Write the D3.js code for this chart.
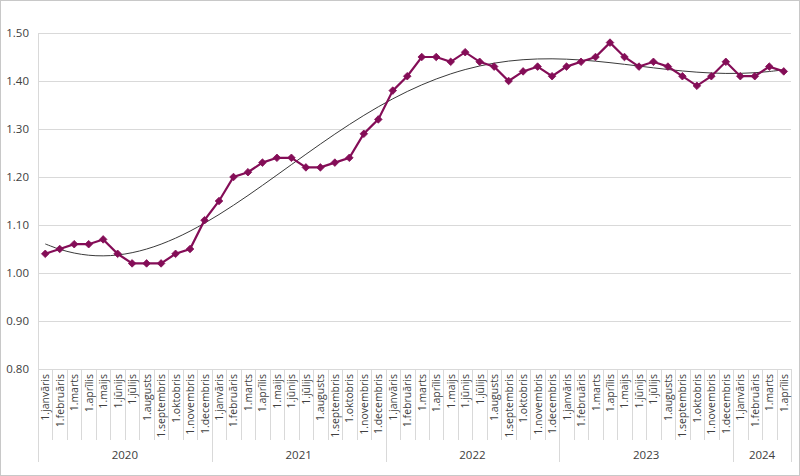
<!DOCTYPE html>
<html><head><meta charset="utf-8">
<script src="https://cdn.jsdelivr.net/npm/d3@7"></script>
<style>body{margin:0;background:#fff}svg{display:block}</style>
</head><body><svg id="c" width="800" height="476"></svg>
<script>
const years = ["2020","2021","2022","2023","2024"];
const monthsPerYear = [12,12,12,12,4];
const monthNames = ["1.janvāris","1.februāris","1.marts","1.aprīlis","1.maijs","1.jūnijs","1.jūlijs","1.augusts","1.septembris","1.oktobris","1.novembris","1.decembris"];
const values = [
 1.04,1.05,1.06,1.06,1.07,1.04,1.02,1.02,1.02,1.04,1.05,1.11,
 1.15,1.20,1.21,1.23,1.24,1.24,1.22,1.22,1.23,1.24,1.29,1.32,
 1.38,1.41,1.45,1.45,1.44,1.46,1.44,1.43,1.40,1.42,1.43,1.41,
 1.43,1.44,1.45,1.48,1.45,1.43,1.44,1.43,1.41,1.39,1.41,1.44,
 1.41,1.41,1.43,1.42];
const yTicks = [0.8,0.9,1.0,1.1,1.2,1.3,1.4,1.5];
const trendOrder = 6;

const svg = d3.select("#c");
const W=800,H=476;
const L=38,R=791,T=33,B=369;

svg.append("rect").attr("x",0.5).attr("y",0.5).attr("width",W-1).attr("height",H-1)
  .attr("fill","#fff").attr("stroke","#c8c8c8");

const cats=[];
years.forEach((y,yi)=>{for(let m=0;m<monthsPerYear[yi];m++)cats.push({year:y,month:monthNames[m],key:y+"-"+m});});
const data = cats.map((c,i)=>({...c,v:values[i]}));

const x = d3.scaleBand().domain(cats.map(c=>c.key)).range([L,R]).padding(0);
const y = d3.scaleLinear().domain([0.8,1.5]).range([B,T]);
const cx = k=>x(k)+x.bandwidth()/2;

svg.append("g").selectAll("line").data(yTicks).join("line")
  .attr("x1",L).attr("x2",R).attr("y1",d=>Math.round(y(d))+0.5).attr("y2",d=>Math.round(y(d))+0.5)
  .attr("stroke","#d9d9d9").attr("stroke-width",1);
svg.append("line").attr("x1",L+0.5).attr("x2",L+0.5).attr("y1",T).attr("y2",B).attr("stroke","#d9d9d9");
svg.append("g").selectAll("text").data(yTicks).join("text")
  .attr("x",29).attr("y",d=>y(d)+4).attr("text-anchor","end")
  .attr("font-family","Open Sans, Liberation Sans, sans-serif").attr("font-size",11.5).attr("fill","#404040")
  .text(d=>d3.format(".2f")(d));

const bw=x.bandwidth();
const sepG=svg.append("g");
const bounds=[L];
cats.forEach(c=>bounds.push(x(c.key)+bw));
const yearStarts=new Set();let acc=0;monthsPerYear.forEach(n=>{yearStarts.add(acc);acc+=n;});yearStarts.add(acc);
bounds.forEach((bx,i)=>{
  const isYear=yearStarts.has(i);
  sepG.append("line").attr("x1",Math.round(bx)+0.5).attr("x2",Math.round(bx)+0.5)
   .attr("y1",B).attr("y2",isYear?462:440).attr("stroke","#d9d9d9");
});
svg.append("g").selectAll("text").data(cats).join("text")
  .attr("transform",d=>`translate(${cx(d.key)+4},374) rotate(-90)`)
  .attr("text-anchor","end")
  .attr("font-family","Open Sans, Liberation Sans, sans-serif").attr("font-size",10.5).attr("fill","#404040")
  .text(d=>d.month);
acc=0;
years.forEach((yr,yi)=>{
  const s=x(cats[acc].key), e=x(cats[acc+monthsPerYear[yi]-1].key)+bw;
  svg.append("text").attr("x",(s+e)/2).attr("y",459).attr("text-anchor","middle")
   .attr("font-family","Open Sans, Liberation Sans, sans-serif").attr("font-size",11.5).attr("fill","#404040").text(yr);
  acc+=monthsPerYear[yi];
});

// polynomial trendline (least squares fit of the data, like the spreadsheet trendline)
function polyfit(xs,ys,deg){
  const n=deg+1;const A=Array.from({length:n},()=>new Array(n+1).fill(0));
  xs.forEach((xv,i)=>{const p=[];for(let k=0;k<2*n;k++)p.push(Math.pow(xv,k));
    for(let r=0;r<n;r++){for(let c=0;c<n;c++)A[r][c]+=p[r+c];A[r][n]+=p[r]*ys[i];}});
  for(let i=0;i<n;i++){let m=i;for(let r=i+1;r<n;r++)if(Math.abs(A[r][i])>Math.abs(A[m][i]))m=r;
    [A[i],A[m]]=[A[m],A[i]];for(let r=0;r<n;r++){if(r===i)continue;const f=A[r][i]/A[i][i];for(let c=i;c<=n;c++)A[r][c]-=f*A[i][c];}}
  return A.map((row,i)=>row[n]/row[i]);
}
const N=values.length, mid=(N-1)/2;
const tx=values.map((_,i)=>(i-mid)/mid);
const coef=polyfit(tx,values,trendOrder);
const trend=tx.map(t=>coef.reduce((s,c,k)=>s+c*Math.pow(t,k),0));

svg.append("path").datum(data.map((d,i)=>({key:d.key,v:trend[i]})))
  .attr("fill","none").attr("stroke","#3a3a3a").attr("stroke-width",1)
  .attr("d",d3.line().x(d=>cx(d.key)).y(d=>y(d.v)).curve(d3.curveCatmullRom));

const col="#840d57";
svg.append("path").datum(data).attr("fill","none").attr("stroke",col).attr("stroke-width",2.2)
  .attr("d",d3.line().x(d=>cx(d.key)).y(d=>y(d.v)));
const s=3.8;
svg.append("g").selectAll("path").data(data).join("path")
  .attr("transform",d=>`translate(${cx(d.key)},${y(d.v)})`)
  .attr("d",`M0,${-s}L${s},0L0,${s}L${-s},0Z`).attr("fill",col).attr("stroke",col).attr("stroke-width",0.8).attr("stroke-linejoin","round");
</script></body></html>
